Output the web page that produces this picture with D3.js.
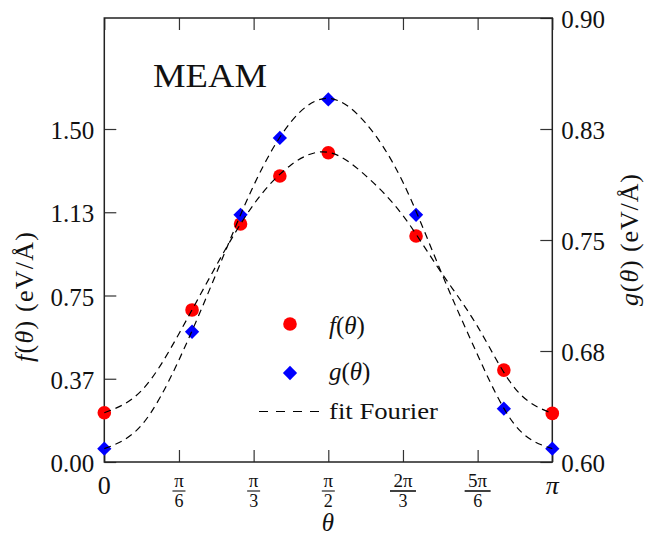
<!DOCTYPE html>
<html><head><meta charset="utf-8"><script src="https://cdn.jsdelivr.net/npm/d3@7"></script></head>
<body style="margin:0">
<svg id="chart" width="648" height="536" font-family="Liberation Serif"></svg>
<script>
// ---- data ----
const thetaDeg = [0, 35.26, 54.74, 70.53, 90, 125.26, 160.53, 180];
const fValues  = [0.222, 0.685, 1.072, 1.288, 1.393, 1.018, 0.414, 0.219];
const gValues  = [0.609, 0.688, 0.767, 0.819, 0.845, 0.767, 0.636, 0.609];

const fitDeg = [0, 15, 30, 45, 60, 75, 90, 105, 120, 135, 150, 165, 180];
const fFit   = [0.222, 0.322, 0.578, 0.885, 1.16, 1.338, 1.395, 1.29, 1.11, 0.86, 0.61, 0.332, 0.219];
const gFit   = [0.609, 0.625, 0.669, 0.7275, 0.7868, 0.8298, 0.8457, 0.829, 0.789, 0.7297, 0.6723, 0.625, 0.609];

const xTickValues = [0, Math.PI/6, Math.PI/3, Math.PI/2, 2*Math.PI/3, 5*Math.PI/6, Math.PI];
const xTickLabels = ["0", "π/6", "π/3", "π/2", "2π/3", "5π/6", "π"];
const yLeftTicks  = [0, 0.375, 0.75, 1.125, 1.5];
const yLeftLabels = ["0.00", "0.37", "0.75", "1.13", "1.50"];
const yRightTicks = [0.60, 0.675, 0.75, 0.825, 0.90];
const yRightLabels = ["0.60", "0.68", "0.75", "0.83", "0.90"];

// ---- layout ----
const FONT = "Liberation Serif";
const L = 104.3, R = 552.3, T = 18, B = 462;
const svg = d3.select("#chart");
const rad = d => d * Math.PI / 180;
const txt = (sel) => sel.append("text").attr("font-family", FONT).style("font-family", FONT).attr("fill", "#111");

const x = d3.scaleLinear().domain([0, Math.PI]).range([L, R]);
const yL = d3.scaleLinear().domain([0, 2]).range([B, T]);
const yR = d3.scaleLinear().domain([0.6, 0.9]).range([B, T]);

const tickLen = 12;

// inward ticks via d3 axes
svg.append("g").attr("transform", `translate(0,${B})`)
  .call(d3.axisTop(x).tickValues(xTickValues).tickSize(tickLen).tickFormat(""))
  .call(g => g.select(".domain").remove());
svg.append("g").attr("transform", `translate(0,${T})`)
  .call(d3.axisBottom(x).tickValues(xTickValues).tickSize(tickLen).tickFormat(""))
  .call(g => g.select(".domain").remove());
svg.append("g").attr("transform", `translate(${L},0)`)
  .call(d3.axisRight(yL).tickValues(yLeftTicks).tickSize(tickLen).tickFormat(""))
  .call(g => g.select(".domain").remove());
svg.append("g").attr("transform", `translate(${R},0)`)
  .call(d3.axisLeft(yR).tickValues(yRightTicks).tickSize(tickLen).tickFormat(""))
  .call(g => g.select(".domain").remove());
svg.selectAll(".tick line").attr("stroke", "#333").attr("stroke-width", 1.2);
svg.selectAll(".tick text").remove();

// frame
svg.append("rect").attr("x", L).attr("y", T).attr("width", R - L).attr("height", B - T)
  .attr("fill", "none").attr("stroke", "#222").attr("stroke-width", 1.5);

// left tick labels
svg.append("g").selectAll("text").data(yLeftTicks).join("text")
  .attr("font-family", FONT).attr("fill", "#111")
  .attr("x", L - 10).attr("y", d => yL(d) + 10)
  .attr("text-anchor", "end").attr("font-size", 25).text((d, i) => yLeftLabels[i]);
// right tick labels
svg.append("g").selectAll("text").data(yRightTicks).join("text")
  .attr("font-family", FONT).attr("fill", "#111")
  .attr("x", R + 9).attr("y", d => yR(d) + 10)
  .attr("text-anchor", "start").attr("font-size", 25).text((d, i) => yRightLabels[i]);

// bottom tick labels (fractions)
xTickValues.forEach((v, i) => {
  const lab = xTickLabels[i];
  const cx = x(v);
  if (lab.includes("/")) {
    const [num, den] = lab.split("/");
    txt(svg).attr("x", cx).attr("y", 487).attr("text-anchor", "middle")
      .attr("font-size", 19).text(num);
    const w = num.length > 1 ? 26 : 13;
    svg.append("line").attr("x1", cx - w/2).attr("x2", cx + w/2)
      .attr("y1", 491).attr("y2", 491)
      .attr("stroke", "#111").attr("stroke-width", num.length > 1 ? 1.6 : 1.1);
    txt(svg).attr("x", cx).attr("y", 507).attr("text-anchor", "middle")
      .attr("font-size", 18).text(den);
  } else {
    txt(svg).attr("x", cx).attr("y", 494).attr("text-anchor", "middle")
      .attr("font-size", 26).attr("font-style", lab === "π" ? "italic" : "normal").text(lab);
  }
});

// axis titles
txt(svg).attr("x", 328).attr("y", 531).attr("text-anchor", "middle")
  .attr("font-size", 25).attr("font-style", "italic").text("θ");

function mathLabel(sel, letter) {
  sel.append("tspan").attr("font-style", "italic").text(letter);
  sel.append("tspan").text("(");
  sel.append("tspan").attr("font-style", "italic").text("θ");
  sel.append("tspan").text(")");
}
const lt = txt(svg).attr("transform", "translate(33,297) rotate(-90)")
  .attr("text-anchor", "middle").attr("font-size", 26)
  .attr("textLength", 130).attr("lengthAdjust", "spacing");
mathLabel(lt, "f");
lt.append("tspan").text(" (eV/Å)");

const rt = txt(svg).attr("transform", "translate(638,240) rotate(-90)")
  .attr("text-anchor", "middle").attr("font-size", 26)
  .attr("textLength", 132).attr("lengthAdjust", "spacing");
mathLabel(rt, "g");
rt.append("tspan").text(" (eV/Å)");

// annotation
txt(svg).attr("x", 153).attr("y", 87).attr("font-size", 33)
  .attr("textLength", 114).attr("lengthAdjust", "spacingAndGlyphs").text("MEAM");

// markers
const diamond = d3.symbol().type(d3.symbolDiamond2).size(130);
svg.append("g").selectAll("circle").data(thetaDeg).join("circle")
  .attr("cx", d => x(rad(d))).attr("cy", (d, i) => yL(fValues[i]))
  .attr("r", 6.8).attr("fill", "#ff0000");
svg.append("g").selectAll("path").data(thetaDeg).join("path")
  .attr("d", diamond)
  .attr("transform", (d, i) => `translate(${x(rad(d))},${yR(gValues[i])})`)
  .attr("fill", "#0000ff");

// Fourier fit curves (dashed, on top of markers)
const lineF = d3.line().x(d => x(rad(d))).y((d, i) => yL(fFit[i])).curve(d3.curveNatural);
const lineG = d3.line().x(d => x(rad(d))).y((d, i) => yR(gFit[i])).curve(d3.curveNatural);
[lineF, lineG].forEach(fn => {
  svg.append("path").attr("d", fn(fitDeg)).attr("fill", "none")
    .attr("stroke", "#000").attr("stroke-width", 1.2).attr("stroke-dasharray", "7,5");
});

// legend
const lg = svg.append("g");
lg.append("circle").attr("cx", 290).attr("cy", 324).attr("r", 6.8).attr("fill", "#ff0000");
lg.append("path").attr("d", diamond).attr("transform", "translate(290,373)").attr("fill", "#0000ff");
lg.append("line").attr("x1", 259).attr("x2", 320).attr("y1", 411.5).attr("y2", 411.5)
  .attr("stroke", "#000").attr("stroke-width", 1.2).attr("stroke-dasharray", "9,8");
const t1 = txt(lg).attr("x", 329).attr("y", 334).attr("font-size", 25);
mathLabel(t1, "f");
const t2 = txt(lg).attr("x", 329).attr("y", 380).attr("font-size", 25);
mathLabel(t2, "g");
txt(lg).attr("x", 329).attr("y", 419).attr("font-size", 24)
  .attr("textLength", 109).attr("lengthAdjust", "spacingAndGlyphs").text("fit Fourier");
</script>
</body>
</html>
